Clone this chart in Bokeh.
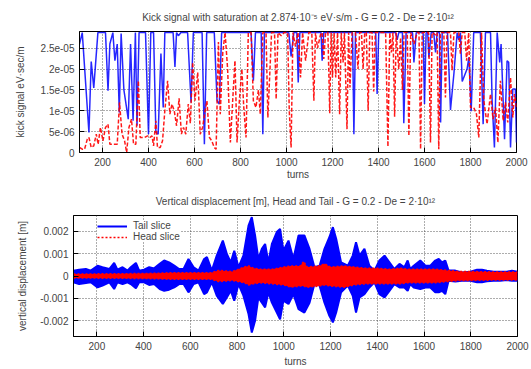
import numpy as np
from bokeh.plotting import figure
from bokeh.layouts import column, row
from bokeh.models import FixedTicker, Range1d, Legend, LegendItem
from bokeh.embed import file_html
from bokeh.resources import INLINE

FONT = "Liberation Sans"

# ---------------- data: kick signal (turn, value in 1e-6 eV*s/m) ----------------
tail_kick_pts = [
    (100, 26), (112, 28.74), (141, 4.8), (151, 21.8), (162, 15.5), (180, 28.74), (213, 28.74),
    (224, 14.8), (232, 26), (245, 28.74), (254, 22), (264, 26), (273, 9.6), (281, 28.5),
    (293, 15), (312, 8), (322, 26), (333, 7.6), (343, 28.74), (350, 6.4), (359, 28.74),
    (387, 28.74), (400, 4.4), (410, 28.74), (422, 28.74), (432, 4.8), (442, 4.4), (454, 23.7),
    (464, 10.8), (471, 28.74), (507, 28.74), (515, 20.5), (522, 28.74), (530, 28), (541, 28.74),
    (570, 28.74), (585, 12), (595, 28.74), (633, 28.74), (643, 2), (653, 28.74), (686, 28.74),
    (698, 12.4), (708, 11.6), (718, 28.74), (846, 28.74), (856, 17.2), (865, 28.74), (890, 28.74),
    (897, 4.4), (904, 28.74), (1010, 28.74), (1020, 23), (1032, 28.74), (1045, 28.74), (1051, 16.8),
    (1058, 28.74), (1150, 28.74), (1155, 22), (1162, 28.74), (1287, 28.74), (1293, 4.4), (1300, 28.74),
    (1388, 28.74), (1394, 14), (1401, 28.74), (1474, 28.74), (1481, 27), (1488, 28.74), (1504, 28.74),
    (1510, 7), (1520, 28.74), (1548, 28.74), (1554, 21.6), (1564, 28.74), (1594, 28.74), (1600, 11.6),
    (1607, 28.74), (1614, 28.74), (1619, 22.8), (1629, 28.74), (1640, 28.74), (1648, 24), (1655, 28.74),
    (1665, 28.74), (1670, 7.2), (1677, 28.74), (1700, 28.74), (1713, 10.2), (1728, 19), (1742, 28.74),
    (1749, 27), (1756, 28.74), (1764, 17), (1785, 20), (1793, 22.8), (1803, 9.9), (1814, 28.74),
    (1843, 28.74), (1855, 6.8), (1865, 28.74), (1887, 28.74), (1894, 12.4), (1904, 1.2), (1916, 28.74),
    (1927, 21.6), (1933, 26), (1948, 3.2), (1959, 22), (1966, 21.6), (1974, 1.2), (1984, 15.2),
    (1995, 15.2), (2000, 2.4),
]

head_kick_pts = [
    (100, 1.2), (112, 0.8), (122, 0.8), (134, 3.2), (141, 3.6), (151, 1.2), (162, 1.6), (173, 4.4),
    (181, 2), (191, 6), (202, 2.8), (213, 6), (224, 6.8), (232, 2), (243, 2), (258, 2), (264, 2),
    (274, 12), (285, 4.4), (296, 2.8), (305, 0), (315, 6), (326, 8), (335, 2), (345, 2), (356, 17.2),
    (364, 3.6), (374, 3.6), (383, 3.6), (396, 4), (406, 3.6), (415, 4), (422, 1.6), (432, 7.6),
    (439, 1.2), (451, 1.2), (461, 2.8), (471, 10), (483, 17.2), (493, 9.2), (502, 11.6), (512, 10),
    (522, 6.4), (533, 13), (543, 4.4), (552, 6), (562, 4.4), (573, 11.6), (582, 7), (592, 21.6),
    (602, 12.4), (614, 19.2), (625, 4.4), (635, 6), (645, 9.6), (654, 12.4), (665, 3.6), (675, 2.8),
    (686, 1.2), (694, 0.8), (704, 26.5), (712, 9.2), (723, 24), (733, 28.74), (744, 20), (756, 2.4),
    (766, 12.4), (776, 22), (785, 2.4), (795, 12.4), (806, 20), (814, 11), (824, 3.6), (834, 28.74),
    (846, 28.74), (856, 12.4), (867, 10.8), (878, 15), (886, 9.2), (897, 28.74), (911, 28.74),
    (919, 8.4), (928, 19.7), (935, 28.74), (948, 28.74), (955, 12.8), (963, 28.74), (977, 28),
    (990, 28.74), (1005, 28.74), (1012, 10), (1020, 1.2), (1028, 28.74), (1039, 25.4), (1050, 28.74),
    (1061, 18), (1070, 28.74), (1083, 22), (1097, 28.74), (1110, 28.74), (1119, 12.4), (1126, 28.74),
    (1135, 25), (1148, 28.3), (1155, 28.74), (1162, 22.4), (1170, 28.74), (1180, 28.74), (1188, 9.4),
    (1194, 28.74), (1200, 18), (1207, 28.74), (1214, 18), (1222, 28.74), (1231, 9.2), (1238, 28.74),
    (1246, 21.6), (1252, 28.74), (1263, 5.6), (1270, 28.74), (1276, 15.6), (1285, 28.74), (1300, 28.74),
    (1311, 20), (1318, 28.74), (1326, 28.74), (1333, 20), (1340, 28.74), (1347, 28.74), (1355, 10),
    (1362, 28.74), (1372, 28.74), (1379, 14.6), (1386, 28.74), (1409, 28.74), (1431, 28.74), (1441, 1.4),
    (1449, 28.74), (1456, 24), (1463, 28.74), (1470, 8.6), (1477, 28.74), (1488, 20), (1496, 27.5),
    (1504, 15), (1511, 28.74), (1525, 28.74), (1532, 4), (1540, 28.74), (1554, 26), (1568, 28.74),
    (1576, 28.74), (1583, 0.8), (1590, 28.74), (1618, 28.74), (1626, 2.4), (1633, 28.74), (1648, 28.2),
    (1655, 28.74), (1662, 0.8), (1669, 28.74), (1684, 28.74), (1691, 13.2), (1698, 28.74), (1713, 28.74),
    (1720, 19.7), (1728, 28.74), (1749, 28.74), (1756, 23.7), (1764, 28.74), (1775, 28.74), (1783, 22),
    (1792, 28.74), (1800, 10.8), (1814, 10.8), (1826, 9.2), (1836, 3.6), (1848, 28.74), (1858, 12.4),
    (1872, 6.8), (1887, 14), (1898, 8), (1909, 10.8), (1919, 2.4), (1930, 17.2), (1942, 7.6),
    (1952, 12), (1962, 7.2), (1974, 18), (1984, 8.4), (1991, 14), (2000, 10.8),
]

# ---------------- data: vertical displacement envelopes (turn, upper mm, lower mm) ----------------
tail_env = [
    (100, 0.24, -0.28), (124, 0.28, -0.36), (153, 0.31, -0.31), (174, 0.24, -0.28), (203, 0.46, -0.51),
    (224, 0.39, -0.43), (253, 0.31, -0.28), (274, 0.58, -0.58), (288, 0.28, -0.28), (310, 0.39, -0.36),
    (331, 0.24, -0.28), (345, 0.39, -0.36), (367, 0.58, -0.55), (381, 0.24, -0.28), (402, 0.28, -0.28),
    (424, 0.39, -0.40), (445, 0.34, -0.36), (469, 0.54, -0.58), (488, 0.69, -0.66), (509, 0.61, -0.61),
    (531, 0.46, -0.51), (552, 0.31, -0.36), (571, 0.31, -0.36), (592, 0.76, -0.73), (614, 0.39, -0.36),
    (635, 0.24, -0.28), (659, 0.76, -0.81), (671, 0.84, -0.73), (692, 0.24, -0.28), (713, 0.91, -0.88),
    (739, 1.58, -1.25), (756, 0.99, -0.96), (773, 0.61, -0.66), (788, 1.13, -1.10), (806, 0.39, -0.36),
    (827, 0.91, -0.88), (849, 2.25, -1.70), (863, 2.63, -2.52), (877, 1.81, -2.00), (891, 0.76, -0.96),
    (906, 1.21, -1.19), (920, 1.43, -1.40), (934, 0.61, -0.73), (949, 1.43, -1.19), (970, 1.96, -1.63),
    (984, 2.10, -1.93), (998, 1.13, -1.10), (1020, 1.58, -1.25), (1041, 0.76, -0.81), (1063, 1.81, -1.48),
    (1088, 1.81, -1.63), (1110, 1.21, -1.19), (1131, 0.39, -0.36), (1153, 0.46, -0.43), (1174, 1.21, -1.19),
    (1195, 1.73, -1.78), (1210, 2.18, -2.07), (1224, 1.66, -1.63), (1245, 0.61, -0.73), (1274, 0.46, -0.43),
    (1295, 0.91, -0.88), (1309, 1.51, -1.63), (1324, 0.91, -0.96), (1345, 1.21, -0.81), (1366, 0.46, -0.51),
    (1388, 0.24, -0.28), (1409, 0.69, -0.81), (1431, 0.91, -0.96), (1452, 0.61, -0.66), (1473, 0.31, -0.36),
    (1495, 0.54, -0.51), (1516, 0.39, -0.51), (1530, 0.69, -0.66), (1541, 0.31, -0.36), (1556, 0.46, -0.51),
    (1584, 0.69, -0.58), (1606, 0.46, -0.51), (1627, 0.46, -0.51), (1648, 0.69, -0.73), (1663, 0.76, -0.73),
    (1677, 0.61, -0.66), (1691, 0.69, -0.81), (1705, 0.24, -0.21), (1734, 0.24, -0.25), (1762, 0.16, -0.21),
    (1798, 0.19, -0.21), (1827, 0.28, -0.28), (1848, 0.28, -0.28), (1869, 0.24, -0.24), (1898, 0.19, -0.21),
    (1926, 0.19, -0.21), (1955, 0.19, -0.18), (1976, 0.24, -0.21), (2000, 0.19, -0.21),
]

head_env = [
    (100, 0.09, -0.09), (300, 0.10, -0.10), (450, 0.12, -0.12), (520, 0.15, -0.15), (600, 0.15, -0.15),
    (690, 0.15, -0.15), (720, 0.25, -0.25), (780, 0.20, -0.20), (830, 0.40, -0.30), (850, 0.45, -0.40),
    (870, 0.35, -0.35), (900, 0.30, -0.30), (950, 0.30, -0.35), (1000, 0.40, -0.40), (1030, 0.45, -0.50),
    (1070, 0.45, -0.45), (1085, 0.65, -0.45), (1100, 0.40, -0.50), (1150, 0.45, -0.45), (1175, 0.55, -0.40),
    (1200, 0.40, -0.45), (1260, 0.45, -0.50), (1300, 0.40, -0.40), (1350, 0.35, -0.35), (1400, 0.35, -0.35),
    (1450, 0.30, -0.35), (1500, 0.35, -0.35), (1530, 0.30, -0.30), (1600, 0.30, -0.30), (1650, 0.30, -0.30),
    (1700, 0.25, -0.25), (1750, 0.20, -0.20), (1800, 0.20, -0.20), (1900, 0.18, -0.18), (2000, 0.18, -0.18),
]

saturation = 2.874e-5
x_ticks = [200, 400, 600, 800, 1000, 1200, 1400, 1600, 1800, 2000]
kick_ticks = [0, 5e-6, 1e-5, 1.5e-5, 2e-5, 2.5e-5]
kick_tick_labels = ["0", "5e-06", "1e-05", "1.5e-05", "2e-05", "2.5e-05"]
disp_ticks = [-0.002, -0.001, 0, 0.001, 0.002]
disp_tick_labels = ["-0.002", "-0.001", "0", "0.001", "0.002"]

title_top = "Kick signal with saturation at 2.874\u00b710\u207b\u2075 eV\u00b7s/m - G = 0.2 - De = 2\u00b710\u00b9\u00b2"
title_bot = "Vertical displacement [m], Head and Tail - G = 0.2 - De = 2\u00b710\u00b9\u00b2"

BLUE = "#0000ff"
RED = "#ff0000"


def style(p, yticks, ylabels, xlabel_standoff):
    p.outline_line_color = "black"
    p.outline_line_width = 1
    p.title.text_font = FONT
    p.title.text_font_size = "10px"
    p.title.text_font_style = "normal"
    p.title.align = "center"
    p.title.standoff = 17
    p.xaxis.ticker = FixedTicker(ticks=x_ticks)
    p.yaxis.ticker = FixedTicker(ticks=yticks)
    p.yaxis.major_label_overrides = {t: l for t, l in zip(yticks, ylabels)}
    for ax in (p.xaxis[0], p.yaxis[0]):
        ax.major_label_text_font = FONT
        ax.major_label_text_font_size = "10px"
        ax.axis_label_text_font = FONT
        ax.axis_label_text_font_size = "10px"
        ax.axis_label_text_font_style = "normal"
        ax.major_tick_in = 5
        ax.major_tick_out = 0
        ax.minor_tick_line_color = None
        ax.major_label_standoff = 5
    p.xaxis.axis_label_standoff = xlabel_standoff
    p.yaxis.axis_label_standoff = 12
    p.grid.grid_line_color = "#333333"
    p.grid.grid_line_dash = "1 2"
    p.grid.grid_line_alpha = 0.8


# ---------------- top panel ----------------
p1 = figure(width=531, height=185, output_backend="svg", toolbar_location=None,
            x_range=Range1d(100, 2000), y_range=Range1d(0, 2.9e-5),
            min_border_left=79, min_border_right=15, min_border_top=31, min_border_bottom=33,
            title=title_top)
style(p1, kick_ticks, kick_tick_labels, 0)
p1.xaxis.axis_label = "turns"
p1.yaxis.axis_label = "kick signal eV\u00b7sec/m"

tt, tv = zip(*tail_kick_pts)
ht, hv = zip(*head_kick_pts)
p1.line(list(tt), list(np.minimum(np.array(tv) * 1e-6, saturation)), line_color=BLUE,
        line_width=1.5, line_alpha=0.85)
p1.line(list(ht), list(np.minimum(np.array(hv) * 1e-6, saturation)), line_color=RED,
        line_width=1.5, line_alpha=0.9, line_dash="4 2")

# ---------------- bottom panel ----------------
p2 = figure(width=531, height=184, output_backend="svg", toolbar_location=None,
            x_range=Range1d(100, 2000), y_range=Range1d(-0.0027, 0.0027),
            min_border_left=73, min_border_right=14, min_border_top=30, min_border_bottom=33,
            title=title_bot)
style(p2, disp_ticks, disp_tick_labels, 3)
p2.yaxis.axis_label_standoff = 9
p2.xaxis.axis_label = "turns"
p2.yaxis.axis_label = "vertical displacement [m]"

et, eu, el = zip(*tail_env)
et = list(et)
eu = list(np.array(eu) * 1e-3)
el = list(np.array(el) * 1e-3)
p2.varea(x=et, y1=el, y2=eu, fill_color=BLUE, fill_alpha=1.0)
tail_top = p2.line(et, eu, line_color=BLUE, line_width=2)
p2.line(et, el, line_color=BLUE, line_width=2)

gt, gu, gl = zip(*head_env)
gt = list(gt)
gu = list(np.array(gu) * 1e-3)
gl = list(np.array(gl) * 1e-3)
p2.varea(x=gt, y1=gl, y2=gu, fill_color=RED, fill_alpha=1.0)
head_top = p2.line(gt, gu, line_color=RED, line_width=1.5, line_dash="2 2")
p2.line(gt, gl, line_color=RED, line_width=1.5, line_dash="2 2")

legend = Legend(items=[LegendItem(label="Tail slice", renderers=[tail_top]),
                       LegendItem(label="Head slice", renderers=[head_top])],
                location=(24, 94), label_text_font=FONT, label_text_font_size="10px",
                glyph_width=30, glyph_height=10, label_height=10, spacing=0, padding=2,
                border_line_color=None, background_fill_color="white", background_fill_alpha=1,
                label_standoff=6)
p2.add_layout(legend)

layout = column(row(p1), row(p2), spacing=0)
open("out.html", "w").write(file_html(layout, INLINE))
